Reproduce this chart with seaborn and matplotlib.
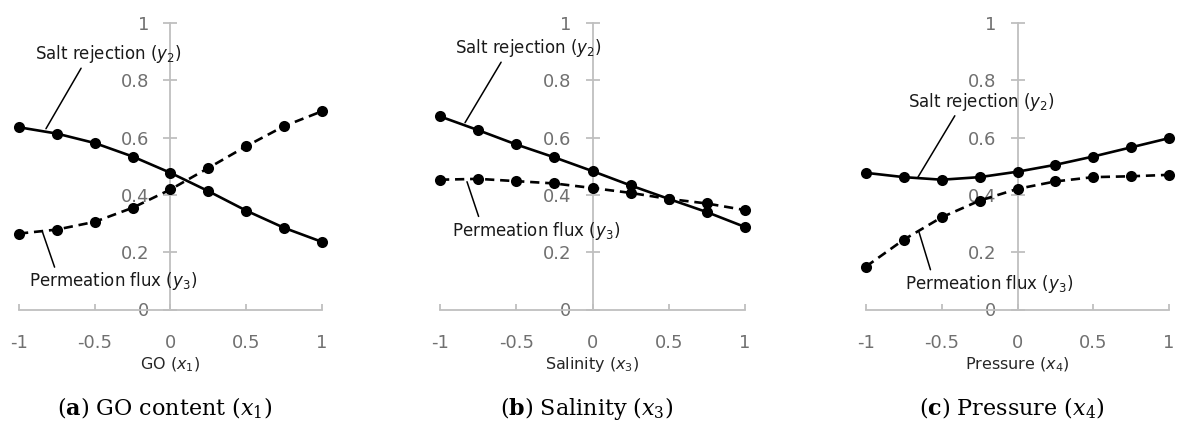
import matplotlib
matplotlib.use("Agg")
import matplotlib.pyplot as plt
import seaborn as sns
import pandas as pd

# ---- data ----
levels = [-1, -0.75, -0.5, -0.25, 0, 0.25, 0.5, 0.75, 1]

salt_go = [0.636, 0.614, 0.581, 0.534, 0.477, 0.413, 0.345, 0.285, 0.236]
flux_go = [0.265, 0.279, 0.306, 0.355, 0.419, 0.494, 0.570, 0.640, 0.692]

salt_sal = [0.674, 0.626, 0.576, 0.531, 0.483, 0.433, 0.386, 0.340, 0.288]
flux_sal = [0.453, 0.456, 0.448, 0.440, 0.424, 0.407, 0.386, 0.370, 0.347]

salt_pr = [0.477, 0.462, 0.453, 0.462, 0.481, 0.505, 0.534, 0.566, 0.598]
flux_pr = [0.150, 0.244, 0.322, 0.380, 0.421, 0.447, 0.462, 0.465, 0.470]

x_ticks = [-1, -0.5, 0, 0.5, 1]
x_tick_labels = ["-1", "-0.5", "0", "0.5", "1"]
y_ticks = [0, 0.2, 0.4, 0.6, 0.8, 1]
y_tick_labels = ["0", "0.2", "0.4", "0.6", "0.8", "1"]

x_labels = [r"GO ($\mathit{x_1}$)", r"Salinity ($\mathit{x_3}$)", r"Pressure ($\mathit{x_4}$)"]
captions = [r"($\mathbf{a}$) GO content ($x_1$)",
            r"($\mathbf{b}$) Salinity ($x_3$)",
            r"($\mathbf{c}$) Pressure ($x_4$)"]
salt_label = r"Salt rejection ($\mathit{y_2}$)"
flux_label = r"Permeation flux ($\mathit{y_3}$)"

# annotation placements: (text xy, curve xy, relpos)
salt_ann = [((-0.413, 0.892), (-0.822, 0.631), (0.33, 0.0)),
            ((-0.423, 0.913), (-0.836, 0.652), (0.33, 0.0)),
            ((-0.241, 0.726), (-0.657, 0.462), (0.335, 0.0))]
flux_ann = [((-0.380, 0.098), (-0.848, 0.275), (0.16, 1.0)),
            ((-0.370, 0.275), (-0.823, 0.446), (0.165, 1.0)),
            ((-0.188, 0.089), (-0.650, 0.270), (0.158, 1.0))]

panels = [(salt_go, flux_go), (salt_sal, flux_sal), (salt_pr, flux_pr)]

sns.set_style("white")
plt.rcParams["font.family"] = ["DejaVu Sans"]
plt.rcParams["mathtext.fontset"] = "dejavusans"
plt.rcParams["axes.unicode_minus"] = False

W, H = 1178, 433
fig = plt.figure(figsize=(W / 100, H / 100), dpi=100)

ax_px = [(19, 303), (440, 305), (866, 303)]
y_top, y_bot = 23, 309.5

grey = "#bfbfbf"
tick_col = "#707070"

for i, (left, width) in enumerate(ax_px):
    ax = fig.add_axes([left / W, (H - y_bot) / H, width / W, (y_bot - y_top) / H])
    salt, flux = panels[i]
    df = pd.DataFrame({"x": levels, "salt": salt, "flux": flux})
    sns.lineplot(data=df, x="x", y="salt", ax=ax, color="black", lw=1.9,
                 marker="o", markersize=8, markeredgewidth=0, clip_on=False, zorder=5)
    sns.lineplot(data=df, x="x", y="flux", ax=ax, color="black", lw=1.9,
                 linestyle=(0, (3.5, 2.2)), marker="o", markersize=8,
                 markeredgewidth=0, clip_on=False, zorder=5)
    ax.set_xlim(-1, 1)
    ax.set_ylim(0, 1)
    for s in ["top", "right"]:
        ax.spines[s].set_visible(False)
    ax.spines["left"].set_position(("data", 0))
    ax.spines["bottom"].set_position(("data", 0))
    for s in ["left", "bottom"]:
        ax.spines[s].set_color(grey)
        ax.spines[s].set_linewidth(1.3)
    ax.set_xticks(x_ticks)
    ax.set_xticklabels(x_tick_labels)
    ax.set_yticks(y_ticks)
    ax.set_yticklabels(y_tick_labels)
    ax.tick_params(axis="y", direction="inout", length=10.5, width=1.3, color=grey,
                   labelcolor=tick_col, labelsize=13, pad=10, left=True)
    ax.tick_params(axis="x", direction="in", length=4.5, width=1.3, color=grey,
                   labelcolor=tick_col, labelsize=13, pad=18, bottom=True)
    ax.set_xlabel(x_labels[i], fontsize=11.5, color="#262626")
    ax.xaxis.set_label_coords(0.5, -0.16)
    ax.set_ylabel("")
    ax.grid(False)
    ax.patch.set_alpha(0)

    (tx, ty), (cx, cy), rp = salt_ann[i]
    ax.annotate(salt_label, xy=(cx, cy), xytext=(tx, ty), fontsize=12,
                ha="center", va="center", color="#1a1a1a",
                arrowprops=dict(arrowstyle="-", color="black", lw=1.1,
                                relpos=rp, shrinkA=0, shrinkB=0), zorder=6)
    (tx, ty), (cx, cy), rp = flux_ann[i]
    ax.annotate(flux_label, xy=(cx, cy), xytext=(tx, ty), fontsize=12,
                ha="center", va="center", color="#1a1a1a",
                arrowprops=dict(arrowstyle="-", color="black", lw=1.1,
                                relpos=rp, shrinkA=0, shrinkB=0), zorder=6)

    cap_x = (left + width * 0.48) / W
    fig.text(cap_x, 1 - 408 / H, captions[i], ha="center", va="center",
             fontsize=16, family="DejaVu Serif", math_fontfamily="dejavuserif",
             color="black")

fig.savefig("out.png", dpi=100)
